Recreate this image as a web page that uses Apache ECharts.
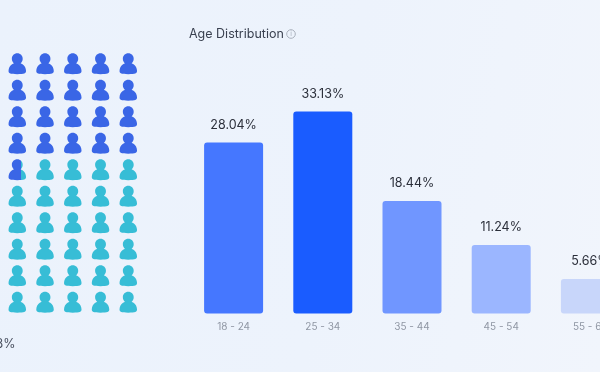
<!DOCTYPE html>
<html>
<head>
<meta charset="utf-8">
<title>Age Distribution</title>
<script src="https://cdn.jsdelivr.net/npm/echarts@6/dist/echarts.min.js"></script>
<style>
  html, body { margin: 0; padding: 0; overflow: hidden; width: 600px; height: 372px; }
  body { background: linear-gradient(100deg, #ebf2fc 0%, #edf3fc 55%, #f1f5fc 100%); }
  /* the reference is cut off on the right, so the chart runs past the window */
  #chart { width: 680px; height: 372px; }
</style>
</head>
<body>
<div id="chart"></div>
<script>
// Age distribution
const ageGroups = ['18 - 24', '25 - 34', '35 - 44', '45 - 54', '55 - 64'];
const agePercents = [28.04, 33.13, 18.44, 11.24, 5.66];

// Icon grid: 5 x 10 icons, blue part is the share
const iconCols = ['1', '2', '3', '4', '5'];
const iconRows = ['1', '2', '3', '4', '5', '6', '7', '8', '9', '10'];
const blueShare = 41.48;

const barColors = ['#4577ff', '#1a5cff', '#7096ff', '#9bb6ff', '#c8d6fa'];
const blue = '#3a66e6';
const teal = '#37bdd6';
const personIcon = 'path://M50 0C68 0 81 14 81 31C81 42 76 51 69 57C72 59 76 60 80 63C92 71 100 84 100 102C100 116 90 120 50 120C10 120 0 116 0 102C0 84 8 71 20 63C24 60 28 59 31 57C24 51 19 42 19 31C19 14 32 0 50 0Z';

const iconsFilled = blueShare / 100 * iconCols.length * iconRows.length;
const iconData = [];
iconRows.forEach((row, r) => {
  iconCols.forEach((col, c) => {
    const fill = Math.max(0, Math.min(1, iconsFilled - (r * iconCols.length + c)));
    let color = teal;
    if (fill === 1) {
      color = blue;
    } else if (fill > 0) {
      color = new echarts.graphic.LinearGradient(0, 0, 1, 0, [
        { offset: 0, color: blue },
        { offset: fill, color: blue },
        { offset: fill, color: teal },
        { offset: 1, color: teal }
      ]);
    }
    iconData.push({ value: [col, row], itemStyle: { color: color, opacity: 1 } });
  });
});

const chart = echarts.init(document.getElementById('chart'));
chart.setOption({
  animation: false,
  textStyle: { fontFamily: 'Inter, sans-serif' },
  grid: [
    { left: 189, top: 8.5, width: 446, height: 305 },
    { left: 3.4, top: 50.5, width: 138.75, height: 265 }
  ],
  xAxis: [
    {
      type: 'category',
      gridIndex: 0,
      data: ageGroups,
      axisLine: { show: false },
      axisTick: { show: false },
      axisLabel: { color: '#8f96a3', fontSize: 10, margin: 8 }
    },
    { type: 'category', gridIndex: 1, data: iconCols, show: false }
  ],
  yAxis: [
    { type: 'value', gridIndex: 0, min: 0, max: 50, show: false },
    { type: 'category', gridIndex: 1, data: iconRows, inverse: true, show: false }
  ],
  series: [
    {
      type: 'bar',
      xAxisIndex: 0,
      yAxisIndex: 0,
      barWidth: 59,
      data: agePercents.map((v, i) => ({
        value: v,
        itemStyle: { color: barColors[i], borderRadius: 3 }
      })),
      label: {
        show: true,
        position: 'top',
        distance: 11,
        color: '#2b2f3a',
        fontSize: 12.5,
        formatter: (p) => p.value.toFixed(2) + '%'
      }
    },
    {
      type: 'scatter',
      xAxisIndex: 1,
      yAxisIndex: 1,
      symbol: personIcon,
      symbolSize: [17.5, 21],
      data: iconData
    }
  ],
  graphic: [
    {
      type: 'text',
      x: 189,
      y: 34.5,
      style: { text: 'Age Distribution', fill: '#3a4150', fontSize: 12.5, verticalAlign: 'middle', fontFamily: 'Inter, sans-serif' }
    },
    {
      type: 'circle',
      shape: { cx: 291, cy: 34, r: 4.3 },
      style: { fill: 'none', stroke: '#a9b0bc', lineWidth: 1 }
    },
    {
      type: 'text',
      x: 291,
      y: 34,
      style: { text: 'i', fill: '#a9b0bc', fontSize: 7, align: 'center', verticalAlign: 'middle', fontFamily: 'Inter, sans-serif' }
    },
    {
      type: 'text',
      x: 15.5,
      y: 344,
      style: { text: blueShare.toFixed(2) + '%', fill: '#4a5160', fontSize: 12.5, align: 'right', verticalAlign: 'middle', fontFamily: 'Inter, sans-serif' }
    }
  ]
});
</script>
</body>
</html>
